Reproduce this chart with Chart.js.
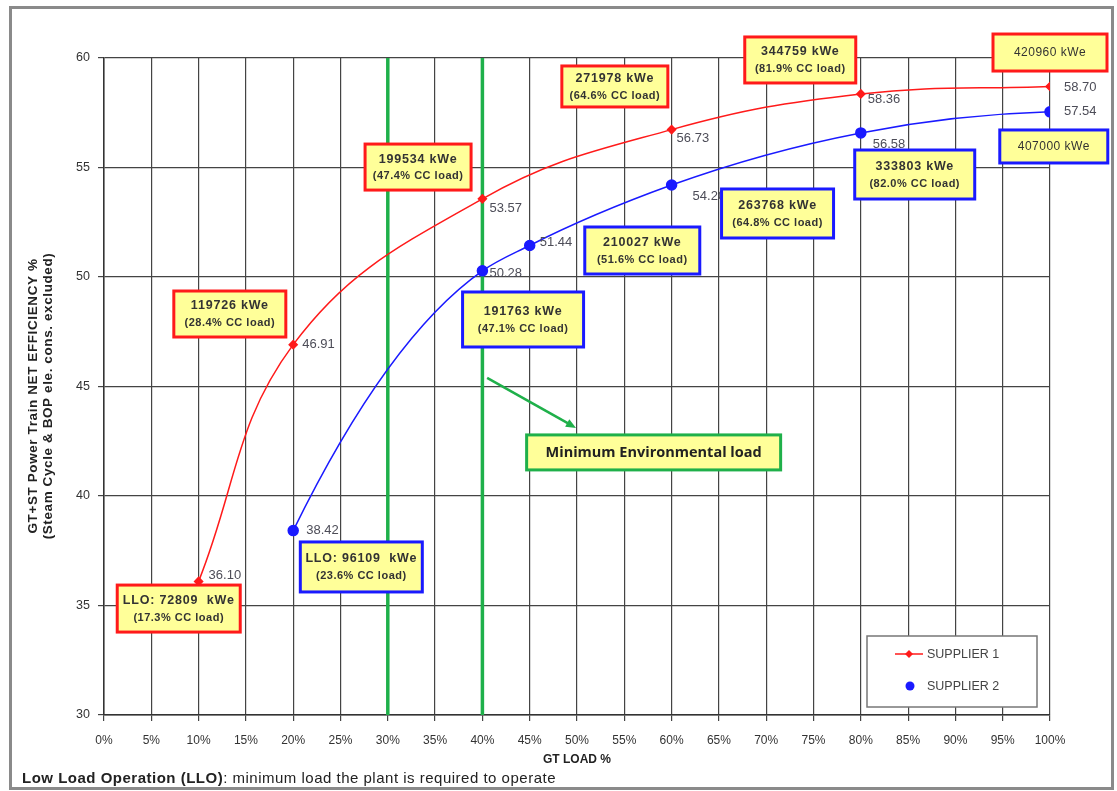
<!DOCTYPE html>
<html>
<head>
<meta charset="utf-8">
<script src="https://cdn.jsdelivr.net/npm/chart.js@4.4.1/dist/chart.umd.min.js"></script>
<style>
  html, body { margin: 0; padding: 0; background: #fff; }
  #wrap { width: 1117px; height: 791px; position: relative; }
</style>
</head>
<body>
<div id="wrap"><canvas id="effChart" width="1117" height="791"></canvas></div>
<script>
// --- données ---
const gtLoad1 = [10, 20, 40, 60, 80, 100];
const supplier1 = [36.10, 46.91, 53.57, 56.73, 58.36, 58.70];
const gtLoad2 = [20, 40, 45, 60, 80, 100];
const supplier2 = [38.42, 50.28, 51.44, 54.20, 56.58, 57.54];

const xTicks = [0, 5, 10, 15, 20, 25, 30, 35, 40, 45, 50, 55, 60, 65, 70, 75, 80, 85, 90, 95, 100];
const yTicks = [30, 35, 40, 45, 50, 55, 60];

// lignes vertes "Minimum Environmental load"
const envLoadLines = [30, 40];

// textes des étiquettes
const calloutText1 = [
  ["LLO: 72809  kWe", "(17.3% CC load)"],
  ["119726 kWe", "(28.4% CC load)"],
  ["199534 kWe", "(47.4% CC load)"],
  ["271978 kWe", "(64.6% CC load)"],
  ["344759 kWe", "(81.9% CC load)"],
  ["420960 kWe"],
];
const calloutText2 = [
  ["LLO: 96109  kWe", "(23.6% CC load)"],
  ["191763 kWe", "(47.1% CC load)"],
  ["210027 kWe", "(51.6% CC load)"],
  ["263768 kWe", "(64.8% CC load)"],
  ["333803 kWe", "(82.0% CC load)"],
  ["407000 kWe"],
];

// placement des étiquettes (centre en unités des axes, taille en px)
const calloutPos1 = [
  { x: 7.9, y: 34.86, w: 123, h: 47 },
  { x: 13.3, y: 48.31, w: 112, h: 46 },
  { x: 33.2, y: 55.02, w: 106, h: 46 },
  { x: 54.0, y: 58.70, w: 106, h: 41 },
  { x: 73.6, y: 59.91, w: 111, h: 46 },
  { x: 100, y: 60.25, w: 114, h: 37 },
];
const calloutPos2 = [
  { x: 27.2, y: 36.76, w: 122, h: 50 },
  { x: 44.3, y: 48.06, w: 121, h: 55 },
  { x: 56.9, y: 51.21, w: 115, h: 47 },
  { x: 71.2, y: 52.90, w: 112, h: 49 },
  { x: 85.7, y: 54.68, w: 120, h: 49 },
  { x: 100.4, y: 55.96, w: 108, h: 33 },
];
// décalage des valeurs affichées à côté des points (px)
const valueOffset1 = [[10, -6], [9, 0], [7, 10], [5, 9], [7, 6], [14, 1]];
const valueOffset2 = [[13, 0], [7, 3], [10, -3], [21, 11], [12, 12], [14, 0]];

const envCallout = { text: "Minimum Environmental load", x: 58.1, y: 41.99, w: 254, h: 35 };
const envArrow = { from: [40.5, 45.39], to: [49.9, 43.11] };

const RED = "#ff1a1a";
const BLUE = "#1a1aff";
const GREEN = "#1fb04a";
const GRID = "#444444";
const TEXT = "#333333";
const FONT = "'Liberation Sans', Arial, sans-serif";

function toPoints(xs, ys) {
  return xs.map((x, i) => ({ x: x, y: ys[i] }));
}

function drawBox(ctx, cx, cy, w, h, border) {
  ctx.save();
  ctx.fillStyle = "#ffff99";
  ctx.fillRect(cx - w / 2, cy - h / 2, w, h);
  ctx.lineWidth = 3;
  ctx.strokeStyle = border;
  ctx.strokeRect(cx - w / 2, cy - h / 2, w, h);
  ctx.restore();
}

function drawCallout(ctx, chart, pos, lines, border) {
  const x = chart.scales.x.getPixelForValue(pos.x);
  const y = chart.scales.y.getPixelForValue(pos.y);
  drawBox(ctx, x, y, pos.w, pos.h, border);
  ctx.save();
  ctx.fillStyle = TEXT;
  ctx.textAlign = "center";
  ctx.textBaseline = "middle";
  if (lines.length === 1) {
    ctx.font = "12px " + FONT;
    ctx.letterSpacing = "0.5px";
    ctx.fillText(lines[0], x, y);
  } else {
    ctx.font = "bold 12.5px " + FONT;
    ctx.letterSpacing = "0.8px";
    ctx.fillText(lines[0], x, y - 8);
    ctx.font = "bold 11px " + FONT;
    ctx.letterSpacing = "0.5px";
    ctx.fillText(lines[1], x, y + 9);
  }
  ctx.restore();
}

// Lissage de la courbe SUPPLIER 2 : tangentes par dérivée à trois points
// (pentes pondérées par l'écart en x), plus proche du tracé Excel d'origine
// que le lissage par défaut de Chart.js avec des abscisses irrégulières.
const smoothPlugin = {
  id: "smoothSupplier2",
  beforeDatasetDraw(chart, args) {
    if (args.index !== 1) return;
    const line = args.meta.dataset;
    const pts = args.meta.data;
    const n = pts.length;
    if (!line || n < 3) return;
    line.updateControlPoints(chart.chartArea);
    const h = [];
    const d = [];
    for (let i = 0; i < n - 1; i++) {
      h[i] = pts[i + 1].x - pts[i].x;
      d[i] = (pts[i + 1].y - pts[i].y) / h[i];
    }
    const m = [];
    m[0] = d[0] + (d[0] - d[1]) * h[0] / (h[0] + h[1]);
    for (let i = 1; i < n - 1; i++) {
      m[i] = (h[i] * d[i - 1] + h[i - 1] * d[i]) / (h[i - 1] + h[i]);
    }
    m[n - 1] = d[n - 2] + (d[n - 2] - d[n - 3]) * h[n - 2] / (h[n - 3] + h[n - 2]);
    pts.forEach((p, i) => {
      if (i > 0) {
        p.cp1x = p.x - h[i - 1] / 3;
        p.cp1y = p.y - m[i] * h[i - 1] / 3;
      }
      if (i < n - 1) {
        p.cp2x = p.x + h[i] / 3;
        p.cp2y = p.y + m[i] * h[i] / 3;
      }
    });
  },
};

// lignes vertes derrière les courbes
const envLinesPlugin = {
  id: "envLines",
  beforeDatasetsDraw(chart) {
    const { ctx, chartArea, scales } = chart;
    ctx.save();
    ctx.strokeStyle = GREEN;
    ctx.lineWidth = 3.5;
    envLoadLines.forEach((v) => {
      const px = scales.x.getPixelForValue(v);
      ctx.beginPath();
      ctx.moveTo(px, chartArea.top);
      ctx.lineTo(px, chartArea.bottom);
      ctx.stroke();
    });
    ctx.restore();
  },
};

// tout le reste : étiquettes, légende, titres, cadre
const overlayPlugin = {
  id: "overlay",
  afterDraw(chart) {
    const { ctx, chartArea, scales } = chart;

    // valeurs à côté des points
    ctx.save();
    ctx.font = "13px " + FONT;
    ctx.fillStyle = "#4d4d58";
    ctx.textAlign = "left";
    ctx.textBaseline = "middle";
    supplier1.forEach((v, i) => {
      const px = scales.x.getPixelForValue(gtLoad1[i]);
      const py = scales.y.getPixelForValue(v);
      ctx.fillText(v.toFixed(2), px + valueOffset1[i][0], py + valueOffset1[i][1]);
    });
    supplier2.forEach((v, i) => {
      const px = scales.x.getPixelForValue(gtLoad2[i]);
      const py = scales.y.getPixelForValue(v);
      ctx.fillText(v.toFixed(2), px + valueOffset2[i][0], py + valueOffset2[i][1]);
    });
    ctx.restore();

    calloutPos1.forEach((p, i) => drawCallout(ctx, chart, p, calloutText1[i], RED));
    calloutPos2.forEach((p, i) => drawCallout(ctx, chart, p, calloutText2[i], BLUE));

    // flèche verte
    const ax1 = scales.x.getPixelForValue(envArrow.from[0]);
    const ay1 = scales.y.getPixelForValue(envArrow.from[1]);
    const ax2 = scales.x.getPixelForValue(envArrow.to[0]);
    const ay2 = scales.y.getPixelForValue(envArrow.to[1]);
    const ang = Math.atan2(ay2 - ay1, ax2 - ax1);
    ctx.save();
    ctx.strokeStyle = GREEN;
    ctx.fillStyle = GREEN;
    ctx.lineWidth = 2.5;
    ctx.beginPath();
    ctx.moveTo(ax1, ay1);
    ctx.lineTo(ax2 - 6 * Math.cos(ang), ay2 - 6 * Math.sin(ang));
    ctx.stroke();
    ctx.beginPath();
    ctx.moveTo(ax2, ay2);
    ctx.lineTo(ax2 - 11 * Math.cos(ang - 0.4), ay2 - 11 * Math.sin(ang - 0.4));
    ctx.lineTo(ax2 - 11 * Math.cos(ang + 0.4), ay2 - 11 * Math.sin(ang + 0.4));
    ctx.closePath();
    ctx.fill();
    ctx.restore();

    // boîte verte
    const ex = scales.x.getPixelForValue(envCallout.x);
    const ey = scales.y.getPixelForValue(envCallout.y);
    drawBox(ctx, ex, ey, envCallout.w, envCallout.h, GREEN);
    ctx.save();
    ctx.font = "bold 14.5px 'Open Sans', " + FONT;
    ctx.fillStyle = "#222";
    ctx.textAlign = "center";
    ctx.textBaseline = "middle";
    ctx.fillText(envCallout.text, ex, ey);
    ctx.restore();

    // légende
    const lx = 867, ly = 636, lw = 170, lh = 71;
    ctx.save();
    ctx.fillStyle = "#fff";
    ctx.fillRect(lx, ly, lw, lh);
    ctx.strokeStyle = "#777";
    ctx.lineWidth = 1.5;
    ctx.strokeRect(lx, ly, lw, lh);
    ctx.strokeStyle = RED;
    ctx.lineWidth = 1.5;
    ctx.beginPath();
    ctx.moveTo(lx + 28, ly + 18);
    ctx.lineTo(lx + 56, ly + 18);
    ctx.stroke();
    ctx.fillStyle = RED;
    ctx.beginPath();
    ctx.moveTo(lx + 42, ly + 14);
    ctx.lineTo(lx + 46, ly + 18);
    ctx.lineTo(lx + 42, ly + 22);
    ctx.lineTo(lx + 38, ly + 18);
    ctx.closePath();
    ctx.fill();
    ctx.fillStyle = BLUE;
    ctx.beginPath();
    ctx.arc(lx + 43, ly + 50, 4.5, 0, Math.PI * 2);
    ctx.fill();
    ctx.font = "12.5px " + FONT;
    ctx.fillStyle = "#444";
    ctx.textAlign = "left";
    ctx.textBaseline = "middle";
    ctx.fillText("SUPPLIER 1", lx + 60, ly + 19);
    ctx.fillText("SUPPLIER 2", lx + 60, ly + 51);
    ctx.restore();

    // titres des axes
    ctx.save();
    ctx.fillStyle = "#222";
    ctx.font = "bold 12px " + FONT;
    ctx.textAlign = "center";
    ctx.textBaseline = "middle";
    ctx.fillText("GT LOAD %", (chartArea.left + chartArea.right) / 2, 760);
    ctx.translate(41, 396);
    ctx.rotate(-Math.PI / 2);
    ctx.font = "bold 13.5px " + FONT;
    ctx.letterSpacing = "0.6px";
    ctx.fillText("GT+ST Power Train NET EFFICIENCY %", 0, -8);
    ctx.fillText("(Steam Cycle & BOP ele. cons. excluded)", 0, 7);
    ctx.restore();

    // note en bas
    ctx.save();
    ctx.fillStyle = "#222";
    ctx.textAlign = "left";
    ctx.textBaseline = "middle";
    ctx.letterSpacing = "0.5px";
    ctx.font = "bold 15px " + FONT;
    const lead = "Low Load Operation (LLO)";
    ctx.fillText(lead, 22, 779);
    const w0 = ctx.measureText(lead).width;
    ctx.font = "15px " + FONT;
    ctx.fillText(": minimum load the plant is required to operate", 22 + w0, 779);
    ctx.restore();

    // cadre
    ctx.save();
    ctx.strokeStyle = "#8a8a8a";
    ctx.lineWidth = 3;
    ctx.strokeRect(10.5, 7.5, 1102, 781);
    ctx.restore();
  },
};

new Chart(document.getElementById("effChart"), {
  type: "line",
  data: {
    datasets: [
      {
        label: "SUPPLIER 1",
        data: toPoints(gtLoad1, supplier1),
        borderColor: RED,
        backgroundColor: RED,
        borderWidth: 1.5,
        pointStyle: "rectRot",
        pointRadius: 4,
        tension: 0.4,
      },
      {
        label: "SUPPLIER 2",
        data: toPoints(gtLoad2, supplier2),
        borderColor: BLUE,
        backgroundColor: BLUE,
        borderWidth: 1.5,
        pointStyle: "circle",
        pointRadius: 5,
        tension: 0.4,
      },
    ],
  },
  options: {
    responsive: false,
    animation: false,
    layout: { padding: { top: 58, right: 67, left: 0, bottom: 0 } },
    plugins: {
      legend: { display: false },
      tooltip: { enabled: false },
    },
    scales: {
      x: {
        type: "linear",
        min: 0,
        max: 100,
        afterBuildTicks: (s) => { s.ticks = xTicks.map((v) => ({ value: v })); },
        afterFit: (s) => { s.height = 76; },
        grid: { color: GRID, lineWidth: 1.2, tickLength: 6 },
        border: { color: "#333", width: 1.5 },
        ticks: {
          callback: (v) => v + "%",
          font: { family: FONT, size: 12 },
          color: "#333",
          padding: 12,
          maxRotation: 0,
          autoSkip: false,
        },
      },
      y: {
        min: 30,
        max: 60,
        afterBuildTicks: (s) => { s.ticks = yTicks.map((v) => ({ value: v })); },
        afterFit: (s) => { s.width = 104; },
        grid: { color: GRID, lineWidth: 1.2, tickLength: 6 },
        border: { color: "#333", width: 1.5 },
        ticks: {
          font: { family: FONT, size: 12.5 },
          color: "#333",
          padding: 8,
        },
      },
    },
  },
  plugins: [smoothPlugin, envLinesPlugin, overlayPlugin],
});
</script>
</body>
</html>
